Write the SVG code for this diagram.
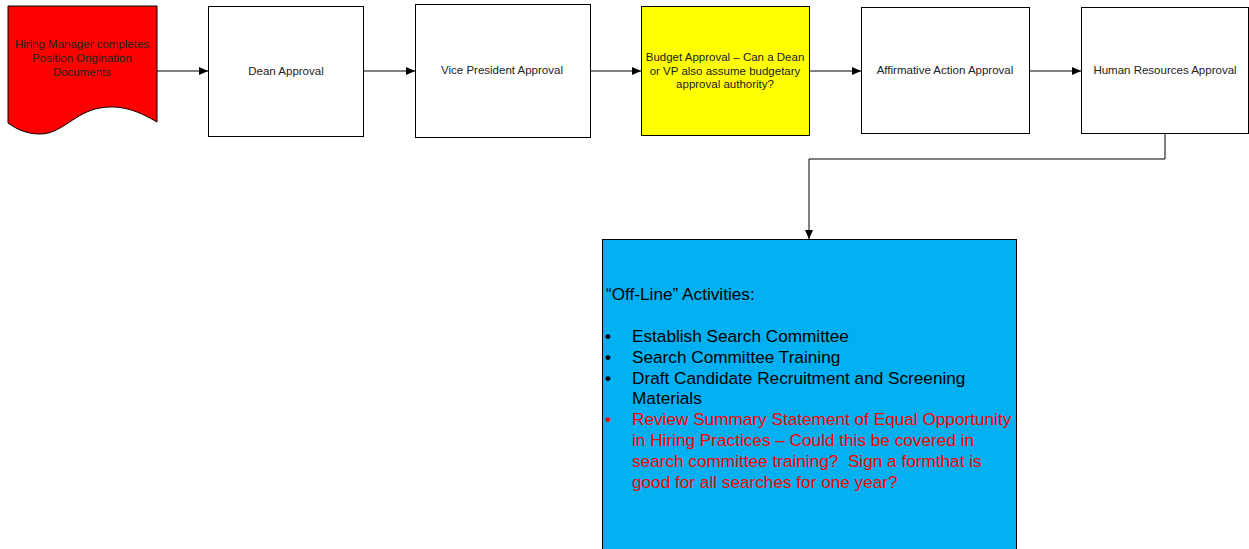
<svg xmlns="http://www.w3.org/2000/svg" width="1249" height="549" viewBox="0 0 1249 549">
<style>
.box{fill:#ffffff;stroke:#000000;stroke-width:1}
.lbl{font-family:"Liberation Sans",Arial,sans-serif;font-size:11.5px;fill:#222222;text-anchor:middle}
.conn{fill:none;stroke:#000000;stroke-width:1}
.big{font-family:"Liberation Sans",Arial,sans-serif;font-size:17.2px;fill:#000000;white-space:pre}
.bul{font-family:"Liberation Sans",Arial,sans-serif;font-size:17.2px;font-weight:bold;fill:#000000}
.red{fill:#ff0000}
</style>
<defs>
<marker id="arr" markerWidth="10" markerHeight="8" refX="9" refY="4" orient="auto" markerUnits="userSpaceOnUse">
<path d="M0,0 L9,4 L0,8 Z" fill="#000000"/>
</marker>
</defs>
<rect width="1249" height="549" fill="#ffffff"/>
<g id="connectors">
<line class="conn" x1="157" y1="71" x2="208" y2="71" marker-end="url(#arr)"/>
<line class="conn" x1="363" y1="71" x2="415" y2="71" marker-end="url(#arr)"/>
<line class="conn" x1="590" y1="71" x2="641" y2="71" marker-end="url(#arr)"/>
<line class="conn" x1="809" y1="71" x2="861" y2="71" marker-end="url(#arr)"/>
<line class="conn" x1="1029" y1="71" x2="1081" y2="71" marker-end="url(#arr)"/>
<polyline class="conn" points="1165,134 1165,159 809,159 809,239" marker-end="url(#arr)"/>
</g>
<g id="hiring-manager">
<path d="M8,6 L157,6 L157,122 C140,112 122,104 100,108 C75,112 62,134 40,134 C25,134 15,128 8,123 Z" fill="#ff0000" stroke="#000000" stroke-width="1"/>
<text class="lbl" x="82" y="48">Hiring Manager completes</text>
<text class="lbl" x="82" y="62">Position Origination</text>
<text class="lbl" x="82" y="76">Documents</text>
</g>
<g id="dean">
<rect class="box" x="208.5" y="6.5" width="155" height="130"/>
<text class="lbl" x="286" y="75">Dean Approval</text>
</g>
<g id="vp">
<rect class="box" x="415.5" y="4.5" width="175" height="133"/>
<text class="lbl" x="502" y="74">Vice President Approval</text>
</g>
<g id="budget">
<rect class="box" x="641.5" y="6.5" width="168" height="129" style="fill:#ffff00"/>
<text class="lbl" x="725" y="61">Budget Approval – Can a Dean</text>
<text class="lbl" x="725" y="75">or VP also assume budgetary</text>
<text class="lbl" x="725" y="88">approval authority?</text>
</g>
<g id="affirmative">
<rect class="box" x="861.5" y="7.5" width="168" height="126"/>
<text class="lbl" x="945" y="74">Affirmative Action Approval</text>
</g>
<g id="hr">
<rect class="box" x="1081.5" y="7.5" width="167" height="126"/>
<text class="lbl" x="1165" y="74">Human Resources Approval</text>
</g>
<g id="offline">
<rect x="602.5" y="239.5" width="414" height="320" fill="#00b0f0" stroke="#000000" stroke-width="1"/>
<text class="big" x="606" y="300">“Off-Line” Activities:</text>
<text class="bul" x="605" y="342">•</text>
<text class="big" x="632" y="342">Establish Search Committee</text>
<text class="bul" x="605" y="363">•</text>
<text class="big" x="632" y="363">Search Committee Training</text>
<text class="bul" x="605" y="384">•</text>
<text class="big" x="632" y="384">Draft Candidate Recruitment and Screening</text>
<text class="big" x="632" y="404">Materials</text>
<text class="bul red" x="605" y="425">•</text>
<text class="big red" x="632" y="425">Review Summary Statement of Equal Opportunity</text>
<text class="big red" x="632" y="446">in Hiring Practices – Could this be covered in</text>
<text class="big red" x="632" y="467" xml:space="preserve">search committee training?  Sign a formthat is</text>
<text class="big red" x="632" y="488">good for all searches for one year?</text>
</g>
</svg>
